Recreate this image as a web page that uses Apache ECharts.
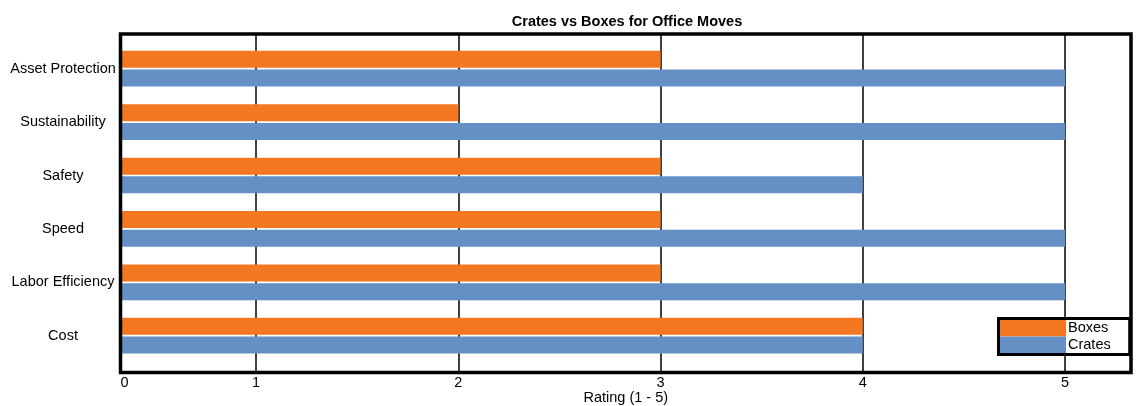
<!DOCTYPE html>
<html>
<head>
<meta charset="utf-8">
<script src="https://cdn.jsdelivr.net/npm/echarts@6/dist/echarts.min.js"></script>
<style>
html,body{margin:0;padding:0;background:#fff;}
#chart{width:1137px;height:406px;}
</style>
</head>
<body>
<div id="chart"></div>
<script>
const categories = ['Asset Protection', 'Sustainability', 'Safety', 'Speed', 'Labor Efficiency', 'Cost'];
const boxes = [3, 2, 3, 3, 3, 4];
const crates = [5, 5, 4, 5, 5, 4];
const tickValues = [1, 2, 3, 4, 5];
const axisMin = 0.33;
const axisMax = 5.326;
const labelValues = [axisMin, 1, 2, 3, 4, 5];

const FONT = 'Liberation Sans, Arial, sans-serif';
const FS = 14.5;
const chart = echarts.init(document.getElementById('chart'));

chart.setOption({
  backgroundColor: '#fff',
  animation: false,
  title: {
    text: 'Crates vs Boxes for Office Moves',
    left: 627,
    textAlign: 'center',
    top: 14,
    padding: 0,
    textStyle: { fontFamily: FONT, fontSize: FS, fontWeight: 'bold', color: '#000' }
  },
  legend: {
    data: ['Boxes', 'Crates'],
    orient: 'vertical',
    left: 998.5,
    top: 318.5,
    itemWidth: 66,
    itemHeight: 16.5,
    itemGap: 0,
    icon: 'rect',
    padding: [1.5, 19, 1.5, 1.5],
    borderColor: '#000',
    borderWidth: 3,
    backgroundColor: '#fff',
    z: 10,
    textStyle: { fontFamily: FONT, fontSize: FS, color: '#000', padding: [0, 0, 0, -3] }
  },
  grid: [
    { left: 120.5, top: 34, width: 1010.5, height: 338.5, show: true, borderColor: '#000', borderWidth: 3.5, backgroundColor: 'transparent', z: 5, outerBoundsMode: 'none', containLabel: false },
    { left: 120.5, top: 42, width: 1010.5, height: 320.4, outerBoundsMode: 'none', containLabel: false }
  ],
  xAxis: [
    {
      gridIndex: 0, type: 'value', min: axisMin, max: axisMax,
      axisLine: { show: false },
      axisTick: { show: false, customValues: tickValues },
      axisLabel: {
        customValues: labelValues,
        alignMinLabel: 'left',
        margin: 3,
        fontFamily: FONT, fontSize: FS, color: '#000',
        formatter: function (v) { return String(Math.round(v)); }
      },
      splitLine: { show: true, lineStyle: { color: '#000', width: 1.5 } },
      name: 'Rating (1 - 5)',
      nameLocation: 'middle',
      nameGap: 18,
      nameMoveOverlap: false,
      nameTextStyle: { fontFamily: FONT, fontSize: FS, color: '#000' }
    },
    {
      gridIndex: 1, type: 'value', min: axisMin, max: axisMax,
      show: false, splitLine: { show: false }
    }
  ],
  yAxis: [
    { gridIndex: 0, type: 'value', show: false, splitLine: { show: false } },
    {
      gridIndex: 1, type: 'category', inverse: true, data: categories,
      axisLine: { show: false }, axisTick: { show: false },
      splitLine: { show: false },
      axisLabel: { margin: 57.5, align: 'center', fontFamily: FONT, fontSize: FS, color: '#000' }
    }
  ],
  series: [
    {
      name: 'Boxes', type: 'bar', xAxisIndex: 1, yAxisIndex: 1,
      data: boxes, barWidth: 17, barGap: '10%',
      itemStyle: { color: '#F47722' }
    },
    {
      name: 'Crates', type: 'bar', xAxisIndex: 1, yAxisIndex: 1,
      data: crates, barWidth: 17, barGap: '10%',
      itemStyle: { color: '#6590C6' }
    }
  ]
});
</script>
</body>
</html>
